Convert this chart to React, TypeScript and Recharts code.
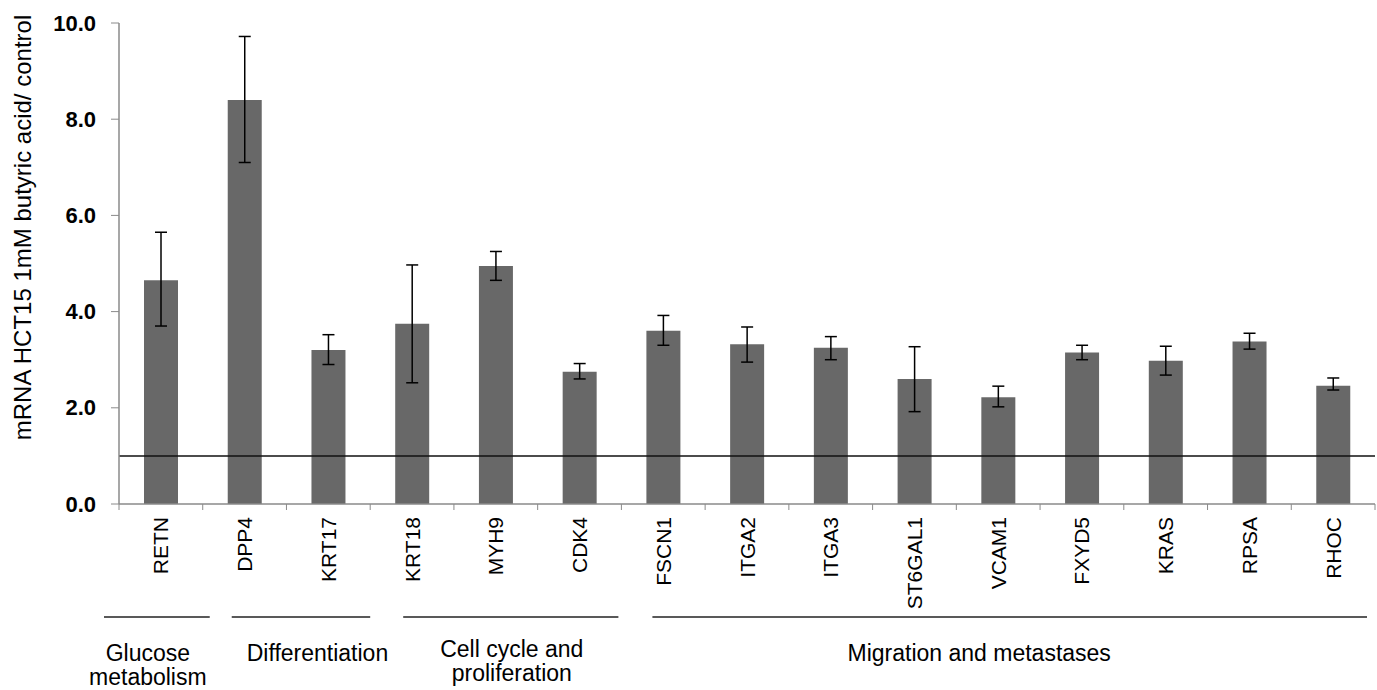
import React from 'react';
import { BarChart, Bar, XAxis, YAxis, ErrorBar, ReferenceLine } from 'recharts';

const genes = ['RETN', 'DPP4', 'KRT17', 'KRT18', 'MYH9', 'CDK4', 'FSCN1', 'ITGA2', 'ITGA3', 'ST6GAL1', 'VCAM1', 'FXYD5', 'KRAS', 'RPSA', 'RHOC'];
const means = [4.65, 8.4, 3.2, 3.75, 4.95, 2.75, 3.6, 3.32, 3.25, 2.6, 2.22, 3.15, 2.98, 3.38, 2.46];
const errLow = [3.7, 7.1, 2.9, 2.52, 4.65, 2.6, 3.3, 2.95, 3.0, 1.92, 2.02, 3.0, 2.68, 3.22, 2.37];
const errHigh = [5.65, 9.72, 3.52, 4.97, 5.25, 2.92, 3.92, 3.68, 3.48, 3.27, 2.45, 3.3, 3.28, 3.55, 2.62];
const yTicks = [0, 2, 4, 6, 8, 10];
const groupNames = [['Glucose', 'metabolism'], ['Differentiation'], ['Cell cycle and', 'proliferation'], ['Migration and metastases']];
const groupSizes = [1, 2, 3, 9];
const baselineValue = 1;
const yLabel = 'mRNA HCT15 1mM butyric acid/ control';

const data = genes.map((g, i) => ({
  gene: g,
  value: means[i],
  err: [means[i] - errLow[i], errHigh[i] - means[i]],
}));

// layout / style
const W = 1377;
const H = 690;
const MARGIN = { top: 23, right: 2, left: 0, bottom: 0 };
const Y_W = 119;
const X_H = 186;
const BW = (W - MARGIN.left - MARGIN.right - Y_W) / genes.length;
const FONT = 'Arial, "Liberation Sans", sans-serif';
const AXIS_GRAY = '#8a8a8a';
const lineInsets = [[-15, -7], [29, 0], [33, 3], [31, 8]];
const labelDx = [-13, 31, 16, -19];
const labelDy = [0, 0, -4, 0];

const groupStarts: number[] = [];
{
  let s = 0;
  groupSizes.forEach((n) => {
    groupStarts.push(s);
    s += n;
  });
}

const XTick = (props: any) => {
  const { x, y, payload, index } = props;
  const half = BW / 2;
  const g = groupStarts.indexOf(index);
  let groupEl = null;
  if (g >= 0) {
    const x0 = x - half;
    const x1 = x0 + groupSizes[g] * BW;
    const cx = (x0 + x1) / 2 + labelDx[g];
    groupEl = (
      <g>
        <line x1={x0 + lineInsets[g][0]} x2={x1 - lineInsets[g][1]} y1={y + 113} y2={y + 113} stroke="#222" strokeWidth={1.5} />
        {groupNames[g].map((t, k) => (
          <text key={k} x={cx} y={y + 157 + labelDy[g] + k * 24} textAnchor="middle" fontSize={23} fontFamily={FONT} fill="#000">
            {t}
          </text>
        ))}
      </g>
    );
  }
  return (
    <g>
      {index === 0 && <line x1={x - half} x2={x - half} y1={y} y2={y + 6} stroke={AXIS_GRAY} />}
      <line x1={x + half} x2={x + half} y1={y} y2={y + 6} stroke={AXIS_GRAY} />
      <text
        transform={`translate(${x},${y + 13}) rotate(-90)`}
        textAnchor="end"
        dominantBaseline="central"
        fontSize={21}
        fontFamily={FONT}
        fill="#000"
      >
        {payload.value}
      </text>
      {groupEl}
    </g>
  );
};

const YTick = (props: any) => {
  const { y, payload } = props;
  return (
    <text
      x={Y_W - 23}
      y={y}
      textAnchor="end"
      dominantBaseline="central"
      fontSize={22}
      fontWeight="bold"
      fontFamily={FONT}
      fill="#000"
    >
      {Number(payload.value).toFixed(1)}
    </text>
  );
};

const YLabel = (props: any) => {
  const vb = props.viewBox || { x: 0, y: 23, width: Y_W, height: 481 };
  const cx = vb.x + 22;
  const cy = vb.y + vb.height / 2 - 36;
  return (
    <text
      transform={`translate(${cx},${cy}) rotate(-90)`}
      textAnchor="middle"
      dominantBaseline="central"
      fontSize={24}
      fontFamily={FONT}
      fill="#000"
    >
      {yLabel}
    </text>
  );
};

export default function App() {
  return (
    <div style={{ position: 'absolute', left: 0, top: 0, width: W, height: H, background: '#fff' }}>
      <BarChart width={W} height={H} data={data} margin={MARGIN} barCategoryGap={0}>
        <XAxis
          dataKey="gene"
          height={X_H}
          interval={0}
          tickLine={false}
          tickSize={0}
          tickMargin={0}
          axisLine={{ stroke: AXIS_GRAY, strokeWidth: 1.5 }}
          tick={<XTick />}
        />
        <YAxis
          width={Y_W}
          domain={[0, 10]}
          ticks={yTicks}
          interval={0}
          tickSize={8}
          axisLine={{ stroke: AXIS_GRAY, strokeWidth: 1.5 }}
          tickLine={{ stroke: AXIS_GRAY }}
          tick={<YTick />}
          label={{ content: <YLabel /> }}
        />
        <Bar dataKey="value" fill="#686868" barSize={34} isAnimationActive={false}>
          <ErrorBar dataKey="err" direction="y" width={6} stroke="#000" strokeWidth={1.5} isAnimationActive={false} />
        </Bar>
        <ReferenceLine y={baselineValue} stroke="#111" strokeWidth={1.5} ifOverflow="extendDomain" />
      </BarChart>
    </div>
  );
}
